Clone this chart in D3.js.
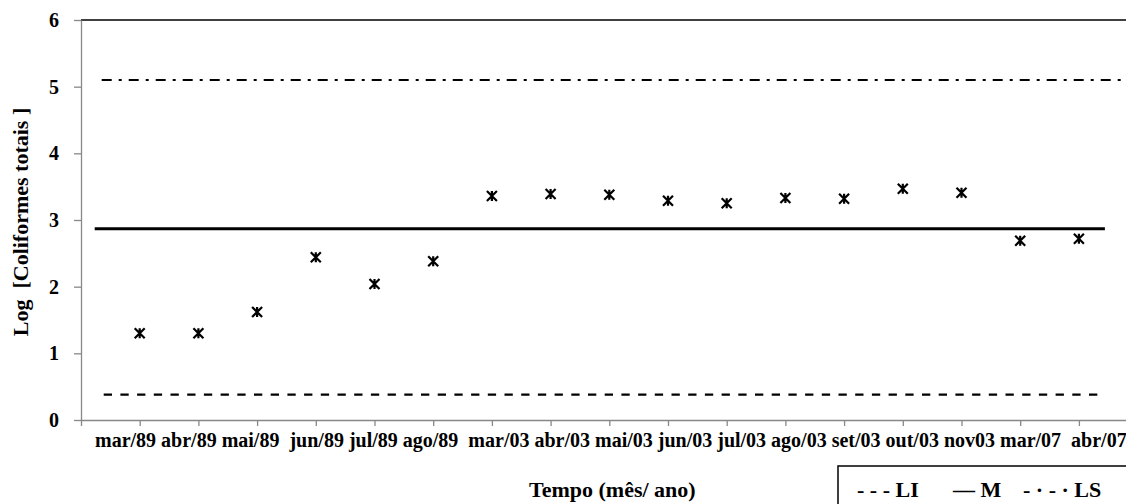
<!DOCTYPE html>
<html>
<head>
<meta charset="utf-8">
<script src="https://cdn.jsdelivr.net/npm/d3@7"></script>
<style>
  html, body { margin: 0; padding: 0; background: #fff; overflow: hidden; }
  text { font-family: "Liberation Serif", "Times New Roman", serif; font-weight: bold; fill: #000; }
</style>
</head>
<body>
<svg id="chart" width="1126" height="504"></svg>
<script>
// Sampling months
const categories = ["mar/89", "abr/89", "mai/89", "jun/89", "jul/89", "ago/89",
  "mar/03", "abr/03", "mai/03", "jun/03", "jul/03", "ago/03", "set/03", "out/03",
  "nov03", "mar/07", "abr/07"];

// Log of total coliforms per sample
const values = [1.30, 1.30, 1.62, 2.44, 2.04, 2.38,
  3.36, 3.39, 3.38, 3.29, 3.25, 3.33, 3.32, 3.47, 3.41, 2.69, 2.72];

// Control limits: lower (LI), mean (M), upper (LS)
const limitLI = 0.38;
const limitM = 2.87;
const limitLS = 5.1;

const yTicks = [0, 1, 2, 3, 4, 5, 6];

// Categories that follow a wider gap in the label row
const wideGapBefore = ["jun/89", "mar/03", "abr/07"];

const svg = d3.select("#chart");

const plot = { left: 81, right: 1137.6, top: 20, bottom: 420 };

const x = d3.scalePoint()
  .domain(categories)
  .range([plot.left, plot.right])
  .padding(1);

const y = d3.scaleLinear()
  .domain([0, 6])
  .range([plot.bottom, plot.top]);

// Top border of plot area
svg.append("line")
  .attr("x1", plot.left).attr("x2", plot.right)
  .attr("y1", plot.top).attr("y2", plot.top)
  .attr("stroke", "#000").attr("stroke-width", 1.6);

// Y axis
const yAxis = svg.append("g")
  .attr("transform", `translate(${plot.left},0)`)
  .call(d3.axisLeft(y).tickValues(yTicks).tickFormat(d3.format("d")).tickSize(7).tickSizeOuter(0).tickPadding(15));
yAxis.select(".domain").attr("stroke", "#888").attr("stroke-width", 1.3);
yAxis.selectAll(".tick line").attr("stroke", "#888").attr("stroke-width", 1.3);
yAxis.selectAll(".tick text")
  .attr("font-size", 20)
  .style("font-family", '"Liberation Serif", "Times New Roman", serif')
  .style("font-weight", "bold")
  .attr("fill", "#000");

// X axis (ticks only; labels are set as one running row below)
const xAxis = svg.append("g")
  .attr("transform", `translate(0,${plot.bottom})`)
  .call(d3.axisBottom(x).tickSize(6).tickSizeOuter(6).tickFormat(""));
xAxis.select(".domain").attr("stroke", "#888").attr("stroke-width", 1.3);
xAxis.selectAll(".tick line").attr("stroke", "#888").attr("stroke-width", 1.3);

// Category label row
const labelRow = categories
  .map((c, i) => (i === 0 ? "" : (wideGapBefore.includes(c) ? "  " : " ")) + c)
  .join("");
svg.append("text")
  .attr("x", 95).attr("y", 447)
  .attr("font-size", 20)
  .attr("xml:space", "preserve")
  .style("white-space", "pre")
  .text(labelRow);

// Control limit lines
const firstX = x(categories[0]);
const lastX = x(categories[categories.length - 1]);

svg.append("line")
  .attr("x1", firstX - 38).attr("x2", plot.right)
  .attr("y1", y(limitLS)).attr("y2", y(limitLS))
  .attr("stroke", "#000").attr("stroke-width", 2.2)
  .attr("stroke-dasharray", "10,7,3,7");

svg.append("line")
  .attr("x1", firstX - 45).attr("x2", lastX + 26)
  .attr("y1", y(limitM)).attr("y2", y(limitM))
  .attr("stroke", "#000").attr("stroke-width", 3);

svg.append("line")
  .attr("x1", firstX - 36).attr("x2", lastX + 26)
  .attr("y1", y(limitLI)).attr("y2", y(limitLI))
  .attr("stroke", "#000").attr("stroke-width", 2.2)
  .attr("stroke-dasharray", "8.3,8.4");

// Star markers (x with vertical bar)
const r = 5;
const markerPath = `M${-r},${-r}L${r},${r}M${-r},${r}L${r},${-r}M0,${-r}V${r}`;
svg.append("g")
  .selectAll("path")
  .data(values)
  .join("path")
  .attr("transform", (d, i) => `translate(${x(categories[i])},${y(d)})`)
  .attr("d", markerPath)
  .attr("fill", "none")
  .attr("stroke", "#000")
  .attr("stroke-width", 2.2);

// Axis titles
svg.append("text")
  .attr("transform", `translate(28,${(plot.top + plot.bottom) / 2 + 2}) rotate(-90)`)
  .attr("text-anchor", "middle")
  .attr("font-size", 22)
  .attr("xml:space", "preserve")
  .style("white-space", "pre")
  .text("Log  [Coliformes totais ]");

svg.append("text")
  .attr("x", 529).attr("y", 497)
  .attr("font-size", 22)
  .text("Tempo (mês/ ano)");

// Legend
svg.append("rect")
  .attr("x", 838).attr("y", 466)
  .attr("width", 320).attr("height", 60)
  .attr("fill", "#fff")
  .attr("stroke", "#000").attr("stroke-width", 1.5);

const legendItems = [
  { text: "- - - LI", x: 857 },
  { text: "— M", x: 953 },
  { text: "- · - · LS", x: 1023 }
];
svg.append("g")
  .selectAll("text")
  .data(legendItems)
  .join("text")
  .attr("x", d => d.x).attr("y", 497)
  .attr("font-size", 22)
  .attr("xml:space", "preserve")
  .style("white-space", "pre")
  .text(d => d.text);
</script>
</body>
</html>
